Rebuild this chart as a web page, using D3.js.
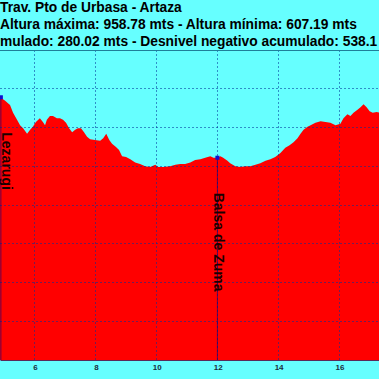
<!DOCTYPE html>
<html>
<head>
<meta charset="utf-8">
<script src="https://cdn.jsdelivr.net/npm/d3@7"></script>
<style>
  html, body { margin: 0; padding: 0; background: #66ffff; overflow: hidden; }
  svg { display: block; }
</style>
</head>
<body>
<div id="chart"></div>
<script>
// ---- data ----
const titleLines = [
  "Trav. Pto de Urbasa - Artaza",
  "Altura máxima: 958.78 mts - Altura mínima: 607.19 mts",
  "mulado: 280.02 mts - Desnivel negativo acumulado: 538.1"
];
const distKm = [4.85,5.01,5.18,5.28,5.41,5.51,5.61,5.74,5.84,5.93,6.03,6.16,6.26,6.33,6.39,6.49,6.59,6.72,6.82,6.92,7.02,7.12,7.22,7.32,7.41,7.51,7.61,7.71,7.81,7.97,8.14,8.24,8.34,8.44,8.53,8.66,8.76,8.86,8.99,9.13,9.29,9.45,9.62,9.78,9.95,10.05,10.21,10.44,10.61,10.77,10.93,11.10,11.26,11.43,11.59,11.76,11.86,11.99,12.09,12.18,12.32,12.41,12.58,12.74,12.91,13.07,13.24,13.40,13.57,13.73,13.89,14.06,14.22,14.36,14.49,14.62,14.72,14.82,14.95,15.05,15.21,15.38,15.54,15.70,15.87,16.03,16.13,16.26,16.36,16.46,16.59,16.69,16.79,16.89,16.99,17.09,17.22,17.32];
const elevM = [939,935,929,919,910,903,899,892,897,901,907,912,907,903,910,915,915,912,912,910,906,899,894,897,899,899,894,888,885,884,883,886,892,884,879,875,871,863,862,859,855,853,850,849,852,849,849,850,852,853,853,855,858,859,861,863,861,861,863,861,857,854,850,849,850,850,852,854,857,859,862,867,874,877,881,886,892,897,901,903,906,908,907,906,903,905,912,917,915,919,923,926,930,926,921,919,920,919];
const waypointNames = ["Lezarugi", "Balsa de Zuma"];
const waypointKm = [4.88, 11.99];
const waypointElev = [939, 861];
const xTicks = [6, 8, 10, 12, 14, 16];
const yGrid = [650, 700, 750, 800, 850, 900, 950];

// ---- layout ----
const W = 379, H = 379;
const plotTop = 50, plotBottom = 360;

const svg = d3.select("#chart").append("svg")
  .attr("width", W).attr("height", H);

svg.append("rect").attr("width", W).attr("height", H).attr("fill", "#66ffff");

const x = d3.scaleLinear().domain([4.851, 17.297]).range([0, W]);
const y = d3.scaleLinear().domain([600, 1000]).range([plotBottom, plotTop]);

const data = distKm.map((d, i) => ({ km: d, ele: elevM[i] }));

// area
const area = d3.area()
  .x(d => x(d.km))
  .y0(plotBottom)
  .y1(d => y(d.ele));
svg.append("path").datum(data).attr("d", area).attr("fill", "#ff0000");

// grid
const gridColor = "#003399";
svg.append("g").selectAll("line").data(yGrid).join("line")
  .attr("x1", 0).attr("x2", W)
  .attr("y1", d => y(d)).attr("y2", d => y(d))
  .attr("stroke", gridColor).attr("stroke-opacity", 0.55)
  .attr("stroke-dasharray", "2,2").attr("shape-rendering", "crispEdges");
svg.append("g").selectAll("line").data(xTicks).join("line")
  .attr("x1", d => x(d)).attr("x2", d => x(d))
  .attr("y1", plotTop).attr("y2", plotBottom)
  .attr("stroke", gridColor).attr("stroke-opacity", 0.55)
  .attr("stroke-dasharray", "2,2").attr("shape-rendering", "crispEdges");

// frame top
svg.append("line").attr("x1", 0).attr("x2", W).attr("y1", plotTop).attr("y2", plotTop)
  .attr("stroke", "#1f7f9a").attr("stroke-width", 1).attr("shape-rendering", "crispEdges");

// x axis
const xAxis = d3.axisBottom(x).tickValues(xTicks).tickSize(0).tickPadding(4)
  .tickFormat(d3.format("d"));
const gx = svg.append("g").attr("transform", `translate(0,${plotBottom})`).call(xAxis);
gx.select(".domain").attr("stroke", "#5a2a5a").attr("stroke-width", 1);
gx.selectAll("text").attr("font-family", "Liberation Sans, Arial, sans-serif")
  .attr("font-size", 8).attr("font-weight", "bold").attr("fill", "#1a3040");

// waypoints
const wp = waypointNames.map((n, i) => ({ name: n, km: waypointKm[i], ele: waypointElev[i] }));
svg.append("g").selectAll("line").data(wp).join("line")
  .attr("x1", d => x(d.km)).attr("x2", d => x(d.km))
  .attr("y1", d => y(d.ele)).attr("y2", plotBottom)
  .attr("stroke", "#000080").attr("stroke-opacity", 0.6).attr("stroke-width", 1);
svg.append("g").selectAll("rect").data(wp).join("rect")
  .attr("x", d => x(d.km) - 2).attr("y", d => y(d.ele) - 2)
  .attr("width", 4).attr("height", 4).attr("fill", "#1010d0");
svg.append("g").selectAll("text").data(wp).join("text")
  .attr("transform", (d, i) => `translate(${i === 0 ? 2 : x(d.km) - 3},${y(d.ele) + 35}) rotate(90)`)
  .attr("font-family", "Liberation Sans, Arial, sans-serif")
  .attr("font-size", 14).attr("font-weight", "bold").attr("fill", "#1a0000")
  .text(d => d.name);

// title
svg.append("g").selectAll("text").data(titleLines).join("text")
  .attr("x", 0)
  .attr("y", (d, i) => 12 + i * 17)
  .attr("font-family", "Liberation Sans, Arial, sans-serif")
  .attr("font-size", 13.8).attr("font-weight", "bold").attr("fill", "#000")
  .text(d => d);
</script>
</body>
</html>
